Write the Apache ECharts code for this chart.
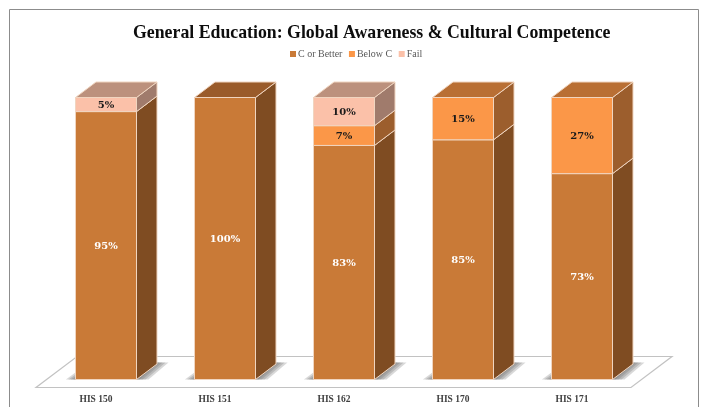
<!DOCTYPE html>
<html>
<head>
<meta charset="utf-8">
<script src="https://cdn.jsdelivr.net/npm/echarts@6/dist/echarts.min.js"></script>
<style>
  html, body { margin: 0; padding: 0; background: #fff; }
  #main { width: 702px; height: 407px; }
</style>
</head>
<body>
<div id="main"></div>
<script>
var courses = ["HIS 150", "HIS 151", "HIS 162", "HIS 170", "HIS 171"];
var cOrBetter = [95, 100, 83, 85, 73];
var belowC = [0, 0, 7, 15, 27];
var fail = [5, 0, 10, 0, 0];

var stacks = [cOrBetter, belowC, fail];
var names = ["C or Better", "Below C", "Fail"];
var faces = [
  { front: "#C97A37", side: "#7F4C22", top: "#9A5B2A", text: "#ffffff" },
  { front: "#FB9748", side: "#9C5E2D", top: "#B96F34", text: "#1a1a1a" },
  { front: "#FBC1A9", side: "#A07B6C", top: "#BC917D", text: "#1a1a1a" }
];

var edge = "#F0D5C0";
var depthX = 20.5, depthY = 15.5; // fake 3d offset of the bars
var serif = "'Liberation Serif', 'DejaVu Serif', serif";

function poly(points, fill, line) {
  return {
    type: "polygon",
    shape: { points: points },
    style: { fill: fill, stroke: line || edge, lineWidth: 1 }
  };
}

// floor shadow, layered so that it fades out away from the bar
function shadowLayers(x0, x1, y0) {
  var layers = [];
  [12, 9, 6, 3].forEach(function (d) {
    layers.push({
      type: "polygon",
      shape: { points: [[x1 - 2, y0], [x1 + d, y0], [x1 + 20 + d, y0 - 17], [x1 + 16, y0 - 17]] },
      style: { fill: "rgba(90,90,90,0.24)" }
    });
    layers.push({
      type: "polygon",
      shape: { points: [[x0 - d * 0.8, y0], [x0 + 2, y0], [x0 + 2, y0 - d * 0.7]] },
      style: { fill: "rgba(90,90,90,0.24)" }
    });
  });
  return layers;
}

function makeRender(s) {
  return function (params, api) {
    var i = api.value(0), v = api.value(1), base = api.value(2);
    if (!v) return { type: "group", children: [] };
    var c = api.coord([i, base]);
    var c2 = api.coord([i, base + v]);
    var x0 = Math.round(c[0] - 21) + 0.5, x1 = x0 + 61;
    var y0 = c[1], y1 = c2[1];
    var isTop = base + v >= 100;
    var kids = base === 0 ? shadowLayers(x0, x1, y0) : [];
    kids.push(poly([[x1, y0], [x1 + depthX, y0 - depthY], [x1 + depthX, y1 - depthY], [x1, y1]], faces[s].side));
    if (isTop) {
      kids.push(poly([[x0, y1], [x0 + depthX, y1 - depthY], [x1 + depthX, y1 - depthY], [x1, y1]], faces[s].top));
    }
    kids.push(poly([[x0, y0], [x1, y0], [x1, y1], [x0, y1]], faces[s].front));
    kids.push({
      type: "text",
      style: {
        x: (x0 + x1) / 2, y: (y0 + y1) / 2 + 0.5,
        text: v + "%",
        fill: faces[s].text,
        font: "bold 10px 'DejaVu Serif', serif",
        align: "center", verticalAlign: "middle"
      }
    });
    return { type: "group", children: kids };
  };
}

var series = stacks.map(function (vals, s) {
  return {
    name: names[s],
    type: "custom",
    clip: false,
    z: 3,
    itemStyle: { color: faces[s].front },
    renderItem: makeRender(s),
    encode: { x: 0, y: 1 },
    data: vals.map(function (v, i) {
      var base = 0;
      for (var k = 0; k < s; k++) base += stacks[k][i];
      return [i, v, base];
    })
  };
});

var myChart = echarts.init(document.getElementById("main"), null, { width: 702, height: 407 });

myChart.setOption({
  animation: false,
  backgroundColor: "#ffffff",
  title: {
    text: "General Education: Global Awareness & Cultural Competence",
    left: 128,
    top: 19,
    textStyle: { fontFamily: serif, fontWeight: "bold", fontSize: 17.8, color: "#0d0d0d" }
  },
  legend: {
    left: 285,
    top: 44,
    icon: "rect",
    itemWidth: 6,
    itemHeight: 6,
    itemGap: 6.5,
    data: names,
    textStyle: { fontFamily: serif, fontSize: 10, color: "#595959", padding: [1, 0, 0, -3] }
  },
  grid: { left: 36.5, width: 595, top: 97.5, height: 282 },
  xAxis: {
    type: "category",
    data: courses,
    axisLine: { show: false },
    axisTick: { show: false },
    axisLabel: { margin: 15, interval: 0, fontFamily: serif, fontWeight: "bold", fontSize: 9.5, color: "#404040" }
  },
  yAxis: { type: "value", min: 0, max: 100, show: false },
  graphic: [
    // chart frame, runs off the bottom of the page
    { type: "rect", silent: true, z: 0, shape: { x: 9.5, y: 9.5, width: 689, height: 420 },
      style: { fill: "none", stroke: "#8c8c8c", lineWidth: 1 } },
    // floor of the 3d chart
    { type: "polygon", silent: true, z: 1,
      shape: { points: [[36, 387.5], [631, 387.5], [672, 356.5], [77, 356.5]] },
      style: { fill: "#ffffff", stroke: "#c2c2c2", lineWidth: 1.2 } }
  ],
  series: series
});
</script>
</body>
</html>
